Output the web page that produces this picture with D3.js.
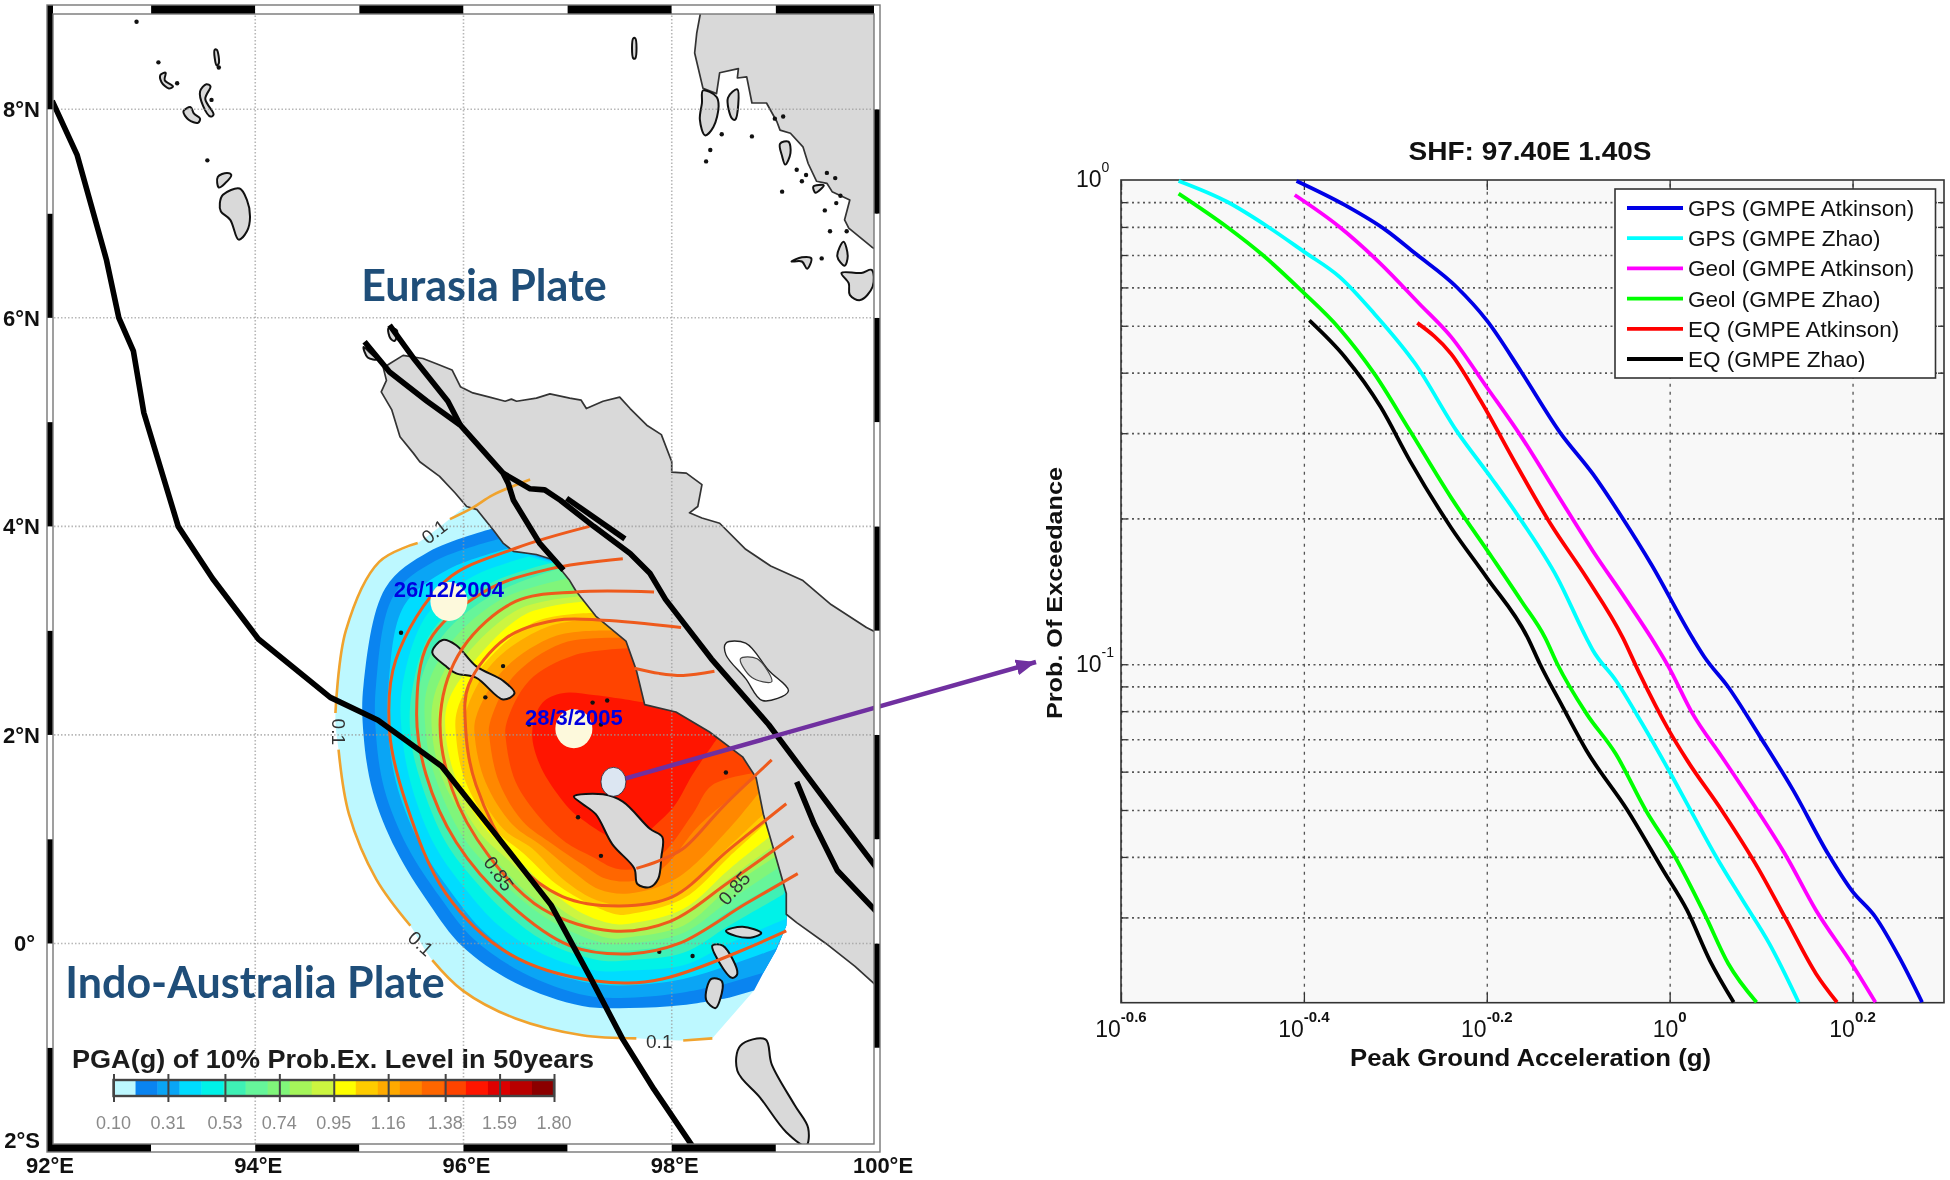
<!DOCTYPE html>
<html><head><meta charset="utf-8">
<script src="https://cdn.jsdelivr.net/npm/d3@7/dist/d3.min.js"></script>
<style>
html,body{margin:0;padding:0;background:#fff}
svg{display:block;filter:blur(0.55px)}
text{font-family:"Liberation Sans",Arial,sans-serif}
</style></head><body>
<div id="chart"></div>
<script>
/* ---------- right panel data: [log10 PGA, log10 probability] ---------- */
const seriesNames = ["GPS (GMPE Atkinson)","GPS (GMPE Zhao)","Geol (GMPE Atkinson)","Geol (GMPE Zhao)","EQ (GMPE Atkinson)","EQ (GMPE Zhao)"];
const seriesColors = ["#0000e6","#00ffff","#ff00ff","#00ff00","#ff0000","#000000"];
const gpsAtkinson = [[-0.408,-0.002],[-0.355,-0.052],[-0.310,-0.104],[-0.278,-0.152],[-0.233,-0.221],[-0.200,-0.290],[-0.162,-0.397],[-0.120,-0.521],[-0.084,-0.607],[-0.052,-0.697],[-0.020,-0.794],[0.025,-0.946],[0.038,-0.985],[0.064,-1.047],[0.099,-1.150],[0.135,-1.260],[0.173,-1.391],[0.199,-1.467],[0.225,-1.522],[0.251,-1.605],[0.276,-1.698]];
const gpsZhao = [[-0.537,-0.002],[-0.484,-0.045],[-0.439,-0.097],[-0.400,-0.148],[-0.361,-0.200],[-0.323,-0.276],[-0.278,-0.380],[-0.233,-0.518],[-0.194,-0.618],[-0.162,-0.704],[-0.123,-0.821],[-0.091,-0.946],[-0.084,-0.971],[-0.059,-1.033],[-0.030,-1.123],[-0.001,-1.219],[0.025,-1.309],[0.051,-1.398],[0.080,-1.488],[0.109,-1.577],[0.141,-1.698]];
const geolAtkinson = [[-0.410,-0.031],[-0.361,-0.097],[-0.316,-0.173],[-0.274,-0.255],[-0.239,-0.324],[-0.200,-0.428],[-0.162,-0.531],[-0.123,-0.649],[-0.084,-0.766],[-0.049,-0.863],[-0.020,-0.946],[-0.001,-1.006],[0.025,-1.102],[0.057,-1.191],[0.096,-1.302],[0.128,-1.398],[0.160,-1.508],[0.199,-1.618],[0.225,-1.698]];
const geolZhao = [[-0.537,-0.028],[-0.484,-0.097],[-0.445,-0.155],[-0.403,-0.228],[-0.361,-0.307],[-0.323,-0.400],[-0.284,-0.518],[-0.239,-0.656],[-0.194,-0.780],[-0.162,-0.870],[-0.136,-0.946],[-0.123,-0.999],[-0.091,-1.102],[-0.059,-1.185],[-0.026,-1.302],[0.006,-1.398],[0.038,-1.515],[0.064,-1.618],[0.095,-1.698]];
const eqAtkinson = [[-0.276,-0.295],[-0.239,-0.359],[-0.207,-0.455],[-0.168,-0.587],[-0.130,-0.711],[-0.091,-0.821],[-0.051,-0.946],[-0.033,-1.019],[-0.001,-1.136],[0.019,-1.198],[0.057,-1.302],[0.096,-1.419],[0.128,-1.529],[0.160,-1.639],[0.183,-1.698]];
const eqZhao = [[-0.394,-0.290],[-0.355,-0.366],[-0.316,-0.469],[-0.284,-0.580],[-0.239,-0.718],[-0.200,-0.821],[-0.155,-0.946],[-0.142,-0.999],[-0.117,-1.088],[-0.091,-1.178],[-0.046,-1.302],[-0.007,-1.426],[0.019,-1.508],[0.044,-1.612],[0.070,-1.698]];
const seriesValues = [gpsAtkinson,gpsZhao,geolAtkinson,geolZhao,eqAtkinson,eqZhao];
const xExponents = [-0.6,-0.4,-0.2,0,0.2];
const xTickLabels = ["-0.6","-0.4","-0.2","0","0.2"];
const yExponents = [0,-1];
const yTickLabels = ["0","-1"];
const yGridValues = [0.9,0.8,0.7,0.6,0.5,0.4,0.3,0.2,0.1,0.09,0.08,0.07,0.06,0.05,0.04,0.03];

/* ---------- map data: [longitude, latitude] ---------- */
const meridians = [94,96,98];
const parallels = [0,2,4,6,8];
const lonLabels = ["92°E","94°E","96°E","98°E","100°E"];
const lonLabelValues = [92,94,96,98,100];
const latLabels = ["2°S","0°","2°N","4°N","6°N","8°N"];
const latLabelValues = [-2,0,2,4,6,8];

const faultTrench = [[92.05,8.08],[92.29,7.56],[92.57,6.56],[92.69,6.0],[92.83,5.68],[92.93,5.09],[93.26,4.0],[93.59,3.5],[94.03,2.92],[94.72,2.36],[95.18,2.14],[95.79,1.70],[96.29,1.07],[96.84,0.37],[97.22,-0.33],[97.53,-0.92],[97.83,-1.40],[98.21,-1.96]];
const faultWest = [[95.05,5.77],[95.29,5.48],[95.65,5.20],[95.97,4.97],[96.38,4.51],[96.43,4.41],[96.48,4.25],[96.73,3.84],[96.96,3.58]];
const faultNorth = [[95.29,5.93],[95.53,5.60],[95.85,5.20],[95.97,4.97]];
const faultMain = [[96.38,4.51],[96.64,4.36],[96.78,4.35],[96.93,4.25],[97.25,4.00],[97.60,3.74],[97.79,3.55],[97.94,3.30],[98.38,2.73],[98.93,2.10],[99.26,1.66],[99.59,1.22],[99.97,0.72]];
const faultSpur = [[96.99,4.27],[97.55,3.88]];
const faultEast = [[99.20,1.55],[99.37,1.14],[99.59,0.70],[99.97,0.30]];
const faults = [faultTrench,faultWest,faultNorth,faultMain,faultSpur,faultEast];

const sumatra = [[95.29,5.56],[95.42,5.64],[95.61,5.61],[95.74,5.56],[95.89,5.50],[95.97,5.34],[96.09,5.28],[96.25,5.24],[96.40,5.20],[96.46,5.22],[96.51,5.20],[96.70,5.23],[96.83,5.27],[97.02,5.23],[97.13,5.21],[97.18,5.13],[97.34,5.20],[97.50,5.24],[97.60,5.13],[97.76,4.97],[97.90,4.88],[98.00,4.62],[98.00,4.52],[98.14,4.51],[98.29,4.40],[98.25,4.19],[98.17,4.13],[98.29,4.08],[98.46,4.03],[98.71,3.78],[98.95,3.62],[99.26,3.48],[99.53,3.25],[99.87,3.03],[99.97,2.98],[99.97,-0.41],[99.76,-0.22],[99.48,0.00],[99.20,0.20],[99.10,0.28],[99.10,0.48],[99.00,0.83],[98.88,1.24],[98.81,1.59],[98.68,1.79],[98.36,2.03],[98.04,2.22],[97.74,2.29],[97.66,2.62],[97.56,2.90],[97.27,3.14],[97.08,3.38],[97.02,3.48],[96.86,3.68],[96.70,3.73],[96.48,3.76],[96.38,3.84],[96.29,3.96],[96.13,4.16],[96.03,4.19],[95.92,4.32],[95.77,4.48],[95.58,4.62],[95.52,4.70],[95.39,4.86],[95.31,5.12],[95.21,5.29],[95.26,5.40],[95.23,5.52]];
const malay = [[98.29,9.0],[98.24,8.73],[98.22,8.54],[98.30,8.20],[98.43,8.15],[98.46,8.35],[98.64,8.39],[98.63,8.30],[98.72,8.31],[98.77,8.06],[98.91,8.06],[99.01,7.88],[99.04,7.80],[99.14,7.77],[99.26,7.64],[99.31,7.48],[99.39,7.31],[99.49,7.29],[99.54,7.21],[99.71,7.13],[99.66,6.94],[99.70,6.86],[99.92,6.68],[99.97,6.65],[99.97,9.0]];
const islands = [
 [[95.70,2.79],[95.80,2.91],[95.93,2.86],[96.12,2.66],[96.38,2.52],[96.49,2.40],[96.38,2.34],[96.12,2.55],[95.93,2.59],[95.83,2.66]],
 [[97.06,1.41],[97.34,1.43],[97.53,1.36],[97.79,1.10],[97.91,1.02],[97.90,0.83],[97.87,0.62],[97.79,0.54],[97.67,0.57],[97.64,0.72],[97.43,0.95],[97.27,1.24],[97.14,1.34]],
 [[98.52,0.12],[98.68,0.16],[98.86,0.10],[98.78,0.06],[98.62,0.07]],
 [[98.39,-0.02],[98.49,-0.02],[98.63,-0.29],[98.58,-0.33],[98.45,-0.17]],
 [[98.38,-0.34],[98.48,-0.36],[98.46,-0.55],[98.42,-0.62],[98.33,-0.54]],
 [[98.66,-0.98],[98.90,-0.92],[98.96,-1.16],[99.18,-1.55],[99.31,-1.77],[99.29,-1.94],[99.10,-1.81],[98.85,-1.48],[98.63,-1.22]],
 [[93.66,7.10],[93.69,7.18],[93.85,7.24],[93.92,7.13],[93.95,6.97],[93.92,6.83],[93.84,6.75],[93.76,6.94],[93.67,7.02]],
 [[93.64,7.35],[93.73,7.39],[93.77,7.37],[93.71,7.29],[93.65,7.25]],
 [[93.31,7.98],[93.38,8.02],[93.41,7.96],[93.47,7.91],[93.45,7.87],[93.36,7.90]],
 [[93.47,8.17],[93.53,8.24],[93.57,8.22],[93.52,8.10],[93.60,7.95],[93.57,7.93],[93.50,8.03]],
 [[93.09,8.33],[93.14,8.35],[93.13,8.28],[93.21,8.22],[93.17,8.20],[93.10,8.26]],
 [[93.61,8.57],[93.63,8.57],[93.65,8.44],[93.63,8.42]],
 [[97.63,8.68],[97.65,8.68],[97.65,8.49],[97.63,8.49]],
 [[98.30,8.18],[98.43,8.12],[98.45,8.03],[98.40,7.83],[98.32,7.75],[98.27,7.90],[98.29,8.06]],
 [[98.54,8.11],[98.63,8.19],[98.61,7.90],[98.58,7.91]],
 [[99.04,7.67],[99.12,7.69],[99.14,7.58],[99.09,7.47],[99.06,7.55]],
 [[99.36,7.26],[99.46,7.27],[99.38,7.20]],
 [[99.65,6.73],[99.69,6.59],[99.66,6.50],[99.59,6.59]],
 [[99.15,6.54],[99.25,6.58],[99.34,6.57],[99.30,6.47],[99.25,6.54]],
 [[99.63,6.43],[99.82,6.43],[99.92,6.46],[99.93,6.30],[99.81,6.17],[99.71,6.22],[99.70,6.33]],
 [[95.04,5.72],[95.12,5.65],[95.17,5.60],[95.08,5.62]],
 [[95.28,5.90],[95.36,5.88],[95.34,5.78],[95.30,5.80]]
];
const lake = [[98.52,2.88],[98.71,2.88],[98.93,2.62],[99.12,2.42],[98.87,2.33],[98.71,2.54],[98.52,2.77]];
const lakeIsland = [[98.66,2.73],[98.82,2.73],[98.96,2.51],[98.77,2.55]];
const islets = [[95.40,2.98],[96.38,2.66],[96.21,2.36],[96.63,2.10],[97.24,2.31],[97.38,2.33],[97.32,2.10],[97.10,1.21],[97.32,0.84],[98.52,1.64],[97.88,-0.08],[98.20,-0.12],[98.99,7.91],[99.07,7.93],[98.77,7.74],[98.37,7.61],[98.33,7.50],[98.48,7.76],[99.20,7.42],[99.29,7.37],[99.25,7.31],[99.06,7.21],[99.49,7.39],[99.57,7.34],[99.62,7.17],[99.58,7.10],[99.47,7.03],[99.52,6.83],[99.44,6.57],[99.68,6.83],[93.07,8.45],[93.25,8.25],[93.58,8.09],[93.54,7.51],[92.86,8.84],[93.65,8.40]];

const bandColors = ["#bdf8ff","#0a84f0","#0aa5f5","#00dcff","#00f2e8","#3ff0b5","#66f59a","#80f57a","#a5f55a","#ccf540","#ffff00","#ffcc00","#ffaa00","#ff8800","#ff6600","#ff4400","#ff1500","#dd0000","#b80000","#8b0000"];
const band0 = [[96.12,4.28],[95.56,3.84],[95.19,3.66],[94.87,3.00],[94.77,2.21],[94.80,1.86],[94.90,1.24],[95.16,0.62],[95.49,0.17],[95.70,-0.16],[95.99,-0.45],[96.50,-0.72],[97.14,-0.88],[97.66,-0.91],[98.11,-0.93],[98.39,-0.91]];
const band1 = [[96.28,3.98],[95.67,3.76],[95.25,3.41],[95.04,2.48],[95.04,2.00],[95.13,1.45],[95.35,0.90],[95.67,0.38],[95.99,-0.03],[96.50,-0.38],[97.14,-0.60],[97.59,-0.62],[98.11,-0.59],[98.55,-0.52]];
const band2 = [[96.34,3.88],[95.73,3.67],[95.33,3.34],[95.16,2.48],[95.16,2.00],[95.24,1.48],[95.46,0.93],[95.77,0.45],[96.09,0.05],[96.57,-0.28],[97.18,-0.50],[97.59,-0.52],[98.11,-0.47],[98.55,-0.38]];
const band3 = [[96.44,3.79],[95.86,3.59],[95.43,3.24],[95.28,2.48],[95.28,2.00],[95.37,1.48],[95.61,0.90],[95.89,0.48],[96.21,0.10],[96.66,-0.21],[97.21,-0.38],[97.59,-0.40],[98.11,-0.34],[98.55,-0.21],[99.00,-0.05]];
const band4 = [[96.63,3.71],[96.09,3.52],[95.64,3.14],[95.41,2.45],[95.41,2.00],[95.51,1.48],[95.73,0.93],[96.02,0.52],[96.34,0.17],[96.76,-0.10],[97.27,-0.26],[97.59,-0.26],[98.11,-0.21],[98.55,0.00],[99.10,0.24]];
const band5 = [[96.89,3.66],[96.25,3.45],[95.70,3.00],[95.51,2.45],[95.49,2.00],[95.59,1.55],[95.83,0.97],[96.12,0.59],[96.47,0.24],[96.82,0.00],[97.30,-0.16],[97.59,-0.16],[98.11,-0.09],[98.55,0.17],[99.07,0.47]];
const band6 = [[96.94,3.60],[96.31,3.36],[95.80,2.95],[95.57,2.45],[95.56,2.00],[95.65,1.57],[95.91,1.00],[96.21,0.62],[96.54,0.31],[96.92,0.05],[97.34,-0.07],[97.59,-0.07],[98.11,0.02],[98.55,0.31],[99.04,0.59]];
const band7 = [[97.00,3.50],[96.38,3.31],[95.89,2.90],[95.65,2.45],[95.64,2.00],[95.73,1.59],[95.99,1.03],[96.31,0.66],[96.63,0.36],[97.02,0.12],[97.37,0.00],[97.59,0.00],[98.11,0.10],[98.55,0.41],[99.00,0.71]];
const band8 = [[97.08,3.38],[96.47,3.26],[95.96,2.83],[95.72,2.38],[95.70,2.00],[95.81,1.55],[96.09,1.07],[96.38,0.72],[96.70,0.41],[97.08,0.17],[97.40,0.05],[97.59,0.06],[98.11,0.17],[98.55,0.53],[98.99,0.83]];
const band9 = [[97.13,3.33],[96.54,3.21],[96.02,2.76],[95.78,2.34],[95.77,2.00],[95.88,1.55],[96.15,1.07],[96.44,0.79],[96.76,0.47],[97.11,0.22],[97.43,0.12],[97.59,0.13],[98.11,0.26],[98.55,0.62],[98.94,0.91]];
const band10 = [[97.16,3.28],[96.60,3.16],[96.09,2.69],[95.85,2.31],[95.83,2.00],[95.94,1.55],[96.21,1.10],[96.50,0.83],[96.82,0.52],[97.14,0.29],[97.43,0.19],[97.59,0.19],[98.11,0.33],[98.55,0.71],[98.91,1.00]];
const band11 = [[97.24,3.17],[96.70,3.09],[96.18,2.66],[95.94,2.24],[95.93,1.97],[96.02,1.55],[96.29,1.10],[96.58,0.86],[96.89,0.57],[97.21,0.38],[97.46,0.28],[97.59,0.28],[98.11,0.43],[98.55,0.83],[98.89,1.14]];
const band12 = [[97.30,3.12],[96.79,3.03],[96.28,2.69],[96.02,2.21],[96.01,1.97],[96.10,1.55],[96.38,1.10],[96.66,0.91],[96.95,0.62],[97.24,0.43],[97.50,0.36],[97.59,0.36],[98.01,0.45],[98.55,0.93],[98.88,1.24]];
const band13 = [[97.43,3.00],[96.89,2.95],[96.38,2.62],[96.12,2.17],[96.11,1.97],[96.21,1.55],[96.47,1.14],[96.76,0.93],[97.05,0.69],[97.30,0.52],[97.59,0.48],[98.04,0.62],[98.55,1.10],[98.84,1.45]];
const band14 = [[97.53,2.93],[96.95,2.88],[96.47,2.55],[96.25,2.10],[96.25,1.97],[96.34,1.55],[96.57,1.17],[96.86,0.95],[97.14,0.76],[97.37,0.62],[97.63,0.60],[97.91,0.72],[98.27,1.14],[98.81,1.59]];
const band15 = [[97.59,2.83],[97.05,2.76],[96.63,2.52],[96.41,2.10],[96.41,1.93],[96.50,1.55],[96.73,1.21],[96.98,0.97],[97.24,0.83],[97.46,0.72],[97.66,0.72],[97.91,0.86],[98.20,1.24],[98.39,1.52],[98.83,1.64]];
const band16 = [[97.74,2.31],[97.27,2.38],[96.95,2.40],[96.76,2.31],[96.66,2.03],[96.73,1.72],[96.92,1.41],[97.11,1.21],[97.59,0.97],[97.88,1.17],[98.04,1.34],[98.20,1.62],[98.44,1.97]];
const hazardBands = [band0,band1,band2,band3,band4,band5,band6,band7,band8,band9,band10,band11,band12,band13,band14,band15,band16];
const hazardEdge = [[98.79,-0.45],[98.88,-0.28],[99.00,-0.07],[99.10,0.17],[99.11,0.41]];
const underLand = [[99.5,1.5],[98.23,3.24]];

const contour1 = [[97.21,4.00],[96.50,3.79],[95.83,3.48],[95.35,2.72],[95.29,2.03],[95.45,1.34],[95.83,0.48],[96.44,-0.10],[97.27,-0.36],[97.91,-0.34],[99.10,0.12]];
const contour2 = [[97.53,3.69],[96.82,3.59],[96.21,3.38],[95.67,2.90],[95.55,2.21],[95.64,1.62],[95.93,0.97],[96.44,0.38],[97.02,-0.02],[97.59,-0.10],[98.07,0.00],[98.71,0.38],[99.21,0.67]];
const contour3 = [[97.83,3.37],[97.08,3.37],[96.50,3.28],[95.99,2.83],[95.78,2.21],[95.89,1.48],[96.25,0.83],[96.76,0.33],[97.43,0.12],[97.98,0.21],[98.55,0.59],[99.17,1.03]];
const contour4 = [[98.09,3.03],[97.34,3.10],[96.89,3.10],[96.41,2.93],[96.05,2.48],[96.02,2.07],[96.12,1.52],[96.50,0.79],[96.95,0.45],[97.50,0.36],[98.01,0.45],[98.55,0.90],[99.10,1.34]];
const contour5a = [[98.41,2.61],[98.11,2.57],[97.88,2.59],[97.64,2.64]];
const contour5b = [[97.66,0.72],[97.87,0.79],[98.11,0.91],[98.49,1.31],[98.96,1.76]];
const contoursInner = [contour1,contour2,contour3,contour4,contour5a,contour5b];
const contoursOuter = [
 [[96.64,4.45],[96.28,4.30],[96.09,4.18],[95.87,4.07]],
 [[95.56,3.84],[95.19,3.66],[94.87,3.00],[94.77,2.21]],
 [[94.80,1.86],[94.90,1.24],[95.16,0.62],[95.49,0.17]],
 [[95.70,-0.16],[95.99,-0.45],[96.50,-0.72],[97.14,-0.88],[97.66,-0.91]],
 [[98.11,-0.93],[98.39,-0.91]]
];
const contourLabels = [["0.1",95.72,3.95,-38],["0.1",94.80,2.03,90],["0.1",95.59,0.00,42],["0.1",97.88,-0.94,0],["0.85",96.34,0.67,55],["0.85",98.60,0.53,-48]];
const events = [["26/12/2004",95.86,3.28],["28/3/2005",97.06,2.06]];
const site = [97.44,1.55];
const colorbarTicks = [0.10,0.31,0.53,0.74,0.95,1.16,1.38,1.59,1.80];
const colorbarLabels = ["0.10","0.31","0.53","0.74","0.95","1.16","1.38","1.59","1.80"];

/* ---------- drawing ---------- */
const svg = d3.select("#chart").append("svg").attr("width",1950).attr("height",1180).attr("viewBox","0 0 1950 1180");
svg.append("rect").attr("width",1950).attr("height",1180).attr("fill","#fff");

const lonS = d3.scaleLinear().domain([92,100]).range([47,880]);
const latS = d3.scaleLinear().domain([-2,9]).range([1152,5]);
const proj = p => [lonS(p[0]),latS(p[1])];
const smooth = d3.line().x(p=>lonS(p[0])).y(p=>latS(p[1])).curve(d3.curveCatmullRom.alpha(0.5));
const straight = d3.line().x(p=>lonS(p[0])).y(p=>latS(p[1]));
const closed = d3.line().x(p=>lonS(p[0])).y(p=>latS(p[1])).curve(d3.curveLinearClosed);
const blob = d3.line().x(p=>lonS(p[0])).y(p=>latS(p[1])).curve(d3.curveCatmullRomClosed.alpha(0.5));

svg.append("defs").append("clipPath").attr("id","mapClip").append("rect")
  .attr("x",lonS(92)).attr("y",latS(9)).attr("width",lonS(100)-lonS(92)).attr("height",latS(-2)-latS(9));
const map = svg.append("g").attr("clip-path","url(#mapClip)");

hazardBands.forEach((b,i)=>{
  const last = b[b.length-1];
  const tail = hazardEdge.filter(p=>p[0]>last[0]&&p[1]>last[1]).concat(underLand);
  map.append("path").attr("fill",bandColors[i])
    .attr("d",smooth(b)+tail.map(p=>"L"+lonS(p[0])+","+latS(p[1])).join("")+"Z");
});
[sumatra,malay].forEach(l=>map.append("path").attr("d",closed(l)).attr("fill","#d9d9d9").attr("stroke","#333").attr("stroke-width",1.7).attr("stroke-linejoin","round"));
islands.forEach(l=>map.append("path").attr("d",blob(l)).attr("fill","#d9d9d9").attr("stroke","#111").attr("stroke-width",2).attr("stroke-linejoin","round"));
map.append("path").attr("d",blob(lake)).attr("fill","#fff").attr("stroke","#222").attr("stroke-width",1.4);
map.append("path").attr("d",blob(lakeIsland)).attr("fill","#d9d9d9").attr("stroke","#444").attr("stroke-width",1.2);
map.selectAll(".islet").data(islets).join("circle").attr("cx",d=>lonS(d[0])).attr("cy",d=>latS(d[1])).attr("r",2.2).attr("fill","#111");

// graticule
meridians.forEach(m=>map.append("line").attr("x1",lonS(m)).attr("x2",lonS(m)).attr("y1",latS(9)).attr("y2",latS(-2)).attr("stroke","#999").attr("stroke-width",1.6).attr("stroke-dasharray","1.5 2").attr("opacity",.7));
parallels.forEach(m=>map.append("line").attr("y1",latS(m)).attr("y2",latS(m)).attr("x1",lonS(92)).attr("x2",lonS(100)).attr("stroke","#999").attr("stroke-width",1.6).attr("stroke-dasharray","1.5 2").attr("opacity",.7));

contoursOuter.forEach(c=>map.append("path").attr("d",smooth(c)).attr("fill","none").attr("stroke","#f0a32e").attr("stroke-width",2.6));
contoursInner.forEach(c=>map.append("path").attr("d",smooth(c)).attr("fill","none").attr("stroke","#ee5a1c").attr("stroke-width",3));
contourLabels.forEach(c=>map.append("text").text(c[0]).attr("transform",`translate(${lonS(c[1])},${latS(c[2])}) rotate(${c[3]})`)
  .attr("text-anchor","middle").attr("dy","0.35em").attr("font-size",19).attr("fill","#333"));
faults.forEach(f=>map.append("path").attr("d",straight(f)).attr("fill","none").attr("stroke","#000").attr("stroke-width",5.6).attr("stroke-linejoin","round"));

// event markers and labels
events.forEach(e=>{
  map.append("ellipse").attr("cx",lonS(e[1])).attr("cy",latS(e[2])).attr("rx",18.5).attr("ry",19.5).attr("fill","#fdf9dc");
  map.append("text").text(e[0]).attr("x",lonS(e[1])).attr("y",latS(e[2])-4).attr("text-anchor","middle")
     .attr("font-size",22).attr("font-weight",700).attr("fill","#0000e0");
});

// arrow from the site
const arrowEnd = [1036,662];
svg.append("defs").append("marker").attr("id","arrow").attr("markerUnits","userSpaceOnUse").attr("viewBox","0 0 20 16").attr("refX",20).attr("refY",8)
  .attr("markerWidth",20).attr("markerHeight",16).attr("orient","auto").append("path").attr("d","M0,0L20,8L0,16Z").attr("fill","#7030a0");
svg.append("line").attr("x1",proj(site)[0]).attr("y1",proj(site)[1]).attr("x2",arrowEnd[0]).attr("y2",arrowEnd[1])
  .attr("stroke","#7030a0").attr("stroke-width",4.5).attr("marker-end","url(#arrow)");
svg.append("ellipse").attr("cx",proj(site)[0]).attr("cy",proj(site)[1]).attr("rx",12.5).attr("ry",14.5).attr("fill","#dce6f2").attr("stroke","#223").attr("stroke-width",.8);

// plate names
svg.append("text").text("Eurasia Plate").attr("x",484).attr("y",301).attr("text-anchor","middle").attr("font-size",43).attr("font-weight",700).attr("fill","#1f4e79").style("font-family","Lato");
svg.append("text").text("Indo-Australia Plate").attr("x",255).attr("y",998).attr("text-anchor","middle").attr("font-size",43).attr("font-weight",700).attr("fill","#1f4e79").style("font-family","Lato");

// colour bar
const cbS = d3.scaleLinear().domain([0.10,1.80]).range([113.5,554]);
const cbStep = (1.80-0.10)/bandColors.length;
svg.append("text").text("PGA(g) of 10% Prob.Ex. Level in 50years").attr("x",333).attr("y",1068).attr("text-anchor","middle").attr("font-size",26).attr("font-weight",700).attr("fill","#1c1c1c").attr("textLength",522).attr("lengthAdjust","spacingAndGlyphs");
svg.selectAll(".cb").data(bandColors).join("rect").attr("x",(d,i)=>cbS(0.10+i*cbStep)).attr("y",1080).attr("width",cbS(cbStep+0.10)-cbS(0.10)+.3).attr("height",16).attr("fill",d=>d);
svg.append("rect").attr("x",113.5).attr("y",1080).attr("width",440.5).attr("height",16).attr("fill","none").attr("stroke","#444").attr("stroke-width",2.4);
const cbAxis = d3.axisBottom(cbS).tickValues(colorbarTicks).tickSize(28).tickFormat("");
const cbG = svg.append("g").attr("transform","translate(0,1074)").call(cbAxis);
cbG.select(".domain").remove();
cbG.selectAll("line").attr("stroke","#444").attr("stroke-width",2).attr("opacity",1);
svg.selectAll(".cbl").data(colorbarTicks).join("text").attr("x",d=>cbS(d)).attr("y",1129).attr("text-anchor","middle").attr("font-size",18).attr("fill","#8a8a8a").text((d,i)=>colorbarLabels[i]);

// neatline
const FR = {t:9,b:8,l:6,r:6};
const neat = svg.append("g");
d3.range(92,100).forEach(l=>{
  neat.append("rect").attr("x",lonS(l)).attr("y",latS(9)).attr("width",lonS(l+1)-lonS(l)).attr("height",FR.t).attr("fill",l%2?"#000":"#fff");
  neat.append("rect").attr("x",lonS(l)).attr("y",latS(-2)-FR.b).attr("width",lonS(l+1)-lonS(l)).attr("height",FR.b).attr("fill",l%2?"#fff":"#000");
});
d3.range(-2,9).forEach(l=>{
  const even = ((l%2)+2)%2===0;
  neat.append("rect").attr("x",lonS(92)).attr("y",latS(l+1)).attr("width",FR.l).attr("height",latS(l)-latS(l+1)).attr("fill",even?"#000":"#fff");
  neat.append("rect").attr("x",lonS(100)-FR.r).attr("y",latS(l+1)).attr("width",FR.r).attr("height",latS(l)-latS(l+1)).attr("fill",even?"#fff":"#000");
});
neat.append("rect").attr("x",lonS(92)).attr("y",latS(9)).attr("width",lonS(100)-lonS(92)).attr("height",latS(-2)-latS(9)).attr("fill","none").attr("stroke","#777").attr("stroke-width",1.4);
neat.append("rect").attr("x",lonS(92)+FR.l).attr("y",latS(9)+FR.t).attr("width",lonS(100)-lonS(92)-FR.l-FR.r).attr("height",latS(-2)-latS(9)-FR.t-FR.b).attr("fill","none").attr("stroke","#777").attr("stroke-width",1.4);

lonLabelValues.forEach((v,i)=>svg.append("text").text(lonLabels[i]).attr("x",lonS(v)+3).attr("y",1173).attr("text-anchor","middle").attr("font-size",22).attr("font-weight",700).attr("fill","#111"));
latLabelValues.forEach((v,i)=>svg.append("text").text(latLabels[i]).attr("x",v===0?35:40).attr("y",v===-2?1148:latS(v)+8).attr("text-anchor","end").attr("font-size",22).attr("font-weight",700).attr("fill","#111"));

/* right panel */
const P = {l:1121,r:1944,t:180,b:1002.7};
const xS = d3.scaleLog().domain([10**-0.6,10**0.3]).range([P.l,P.r]);
const yS = d3.scaleLog().domain([0.02,1]).range([P.b,P.t]);
svg.append("rect").attr("x",P.l).attr("y",P.t).attr("width",P.r-P.l).attr("height",P.b-P.t).attr("fill","#f8f8f8");

const xMajor = xExponents.map(e=>10**e);
const gx = svg.append("g").attr("transform",`translate(0,${P.b})`).call(d3.axisBottom(xS).tickValues(xMajor).tickSize(-(P.b-P.t)).tickFormat(""));
gx.select(".domain").remove();
gx.selectAll("line").attr("stroke","#555").attr("stroke-width",1.3).attr("stroke-dasharray","3 5").attr("opacity",1);
const gy = svg.append("g").attr("transform",`translate(${P.l},0)`).call(d3.axisLeft(yS).tickValues(yGridValues).tickSize(-(P.r-P.l)).tickFormat(""));
gy.select(".domain").remove();
gy.selectAll("line").attr("stroke","#555").attr("stroke-width",1.7).attr("stroke-dasharray","2 3.5").attr("opacity",1);

[d3.axisBottom(xS).tickValues(xMajor).tickSize(-10),d3.axisTop(xS).tickValues(xMajor).tickSize(-10)].forEach((a,i)=>{
  const g = svg.append("g").attr("transform",`translate(0,${i?P.t:P.b})`).call(a.tickFormat(""));
  g.select(".domain").remove(); g.selectAll("line").attr("stroke","#333").attr("stroke-width",1.3);
});
[d3.axisLeft(yS).tickSize(-6),d3.axisRight(yS).tickSize(-6)].forEach((a,i)=>{
  const g = svg.append("g").attr("transform",`translate(${i?P.r:P.l},0)`).call(a.tickValues(yGridValues).tickFormat(""));
  g.select(".domain").remove(); g.selectAll("line").attr("stroke","#333").attr("stroke-width",1.3);
});
svg.append("rect").attr("x",P.l).attr("y",P.t).attr("width",P.r-P.l).attr("height",P.b-P.t).attr("fill","none").attr("stroke","#333").attr("stroke-width",1.6);

const curveLine = d3.line().x(p=>xS(10**p[0])).y(p=>yS(10**p[1])).curve(d3.curveMonotoneX);
seriesValues.forEach((s,i)=>svg.append("path").attr("d",curveLine(s)).attr("fill","none").attr("stroke",seriesColors[i]).attr("stroke-width",3.8));

// axis numbers with exponents
xExponents.forEach((e,i)=>{
  const t = svg.append("text").attr("x",xS(10**e)).attr("y",1037).attr("text-anchor","middle").attr("fill","#111").attr("font-size",23);
  t.append("tspan").text("10");
  t.append("tspan").text(xTickLabels[i]).attr("dy",-15).attr("font-size",15).attr("font-weight",700);
});
yExponents.forEach((e,i)=>{
  const t = svg.append("text").attr("x",1076).attr("y",yS(10**e)+(e===0?7:8)).attr("fill","#111").attr("font-size",23);
  t.append("tspan").text("10");
  t.append("tspan").text(yTickLabels[i]).attr("dy",-15).attr("font-size",14);
});
svg.append("text").text("SHF: 97.40E 1.40S").attr("x",1530).attr("y",160).attr("text-anchor","middle").attr("font-size",25).attr("font-weight",700).attr("fill","#111").attr("textLength",243).attr("lengthAdjust","spacingAndGlyphs");
svg.append("text").text("Peak Ground Acceleration (g)").attr("x",1530.5).attr("y",1066).attr("text-anchor","middle").attr("font-size",24).attr("font-weight",700).attr("fill","#111").attr("textLength",361).attr("lengthAdjust","spacingAndGlyphs");
svg.append("text").text("Prob. Of Exceedance").attr("transform","translate(1062,593) rotate(-90)").attr("text-anchor","middle").attr("font-size",22).attr("font-weight",700).attr("fill","#111").attr("textLength",252).attr("lengthAdjust","spacingAndGlyphs");

// legend
svg.append("rect").attr("x",1615).attr("y",189).attr("width",320.5).attr("height",189).attr("fill","#fff").attr("stroke","#333").attr("stroke-width",1.6);
const legendY = d3.scalePoint().domain(seriesNames).range([208,359]);
seriesNames.forEach((n,i)=>{
  svg.append("line").attr("x1",1627).attr("x2",1683).attr("y1",legendY(n)).attr("y2",legendY(n)).attr("stroke",seriesColors[i]).attr("stroke-width",3.8);
  svg.append("text").text(n).attr("x",1688).attr("y",legendY(n)+8).attr("font-size",22.5).attr("fill","#111");
});
</script>
</body></html>
